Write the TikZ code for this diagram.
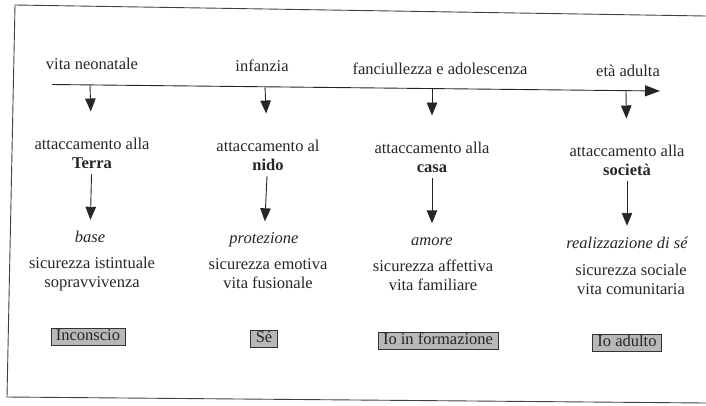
\documentclass[tikz,border=0pt]{standalone}
\usepackage{fontspec}
\setmainfont{Liberation Serif}
\usetikzlibrary{arrows.meta}

\begin{document}
\begin{tikzpicture}[x=1pt,y=-1pt,
		lbl/.style={font=\fontsize{16.5}{19.5}\selectfont, text=black!85, align=center, inner sep=0pt, text height=11pt, text depth=4pt},
		pair/.style={font=\fontsize{16.5}{19.5}\selectfont, text=black!85, align=center, inner sep=0pt, anchor=north},
		ital/.style={lbl, font=\fontsize{16.5}{19.5}\selectfont\itshape},
		tag/.style={lbl, draw=black!80, line width=0.6pt, fill=black!28, inner xsep=5pt, inner ysep=1pt},
		arr/.style={draw=black!85, line width=0.9pt, -{Triangle[width=10.5pt,length=13pt]}},
		down/.style={arr, shorten >=26pt},
		step2/.style={arr, shorten <=5pt, shorten >=11pt}]
		\useasboundingbox (0,0) rectangle (706,405);

		\draw [black!75, line width=0.9pt] (706,16) -- (15,5) -- (7,397) -- (706,403);

		\node [lbl] (vita) at (92,65.5) {vita neonatale};
		\node [lbl] (infanzia) at (262,67.5) {infanzia};
		\node [lbl] (fanciullezza) at (440,70.5) {fanciullezza e adolescenza};
		\node [lbl] (adulta) at (628,72.5) {età adulta};

		\coordinate (start) at (52,84.5);
		\coordinate (end) at (660,91);
		\coordinate (a1) at (90,85);
		\coordinate (a2) at (265,87);
		\coordinate (a3) at (432,89);
		\coordinate (a4) at (626,91);
		\draw [draw=black!85, line width=0.9pt, -{Triangle[width=11pt,length=15pt]}] (start) -- (end);

		\node [pair] (terra) at (92,137.5) {attaccamento alla\\\textbf{Terra}};
		\node [pair] (nido) at (268,139.5) {attaccamento al\\\textbf{nido}};
		\node [pair] (casa) at (432,141.5) {attaccamento alla\\\textbf{casa}};
		\node [pair] (societa) at (627,144.5) {attaccamento alla\\\textbf{società}};

		\node [ital] (base) at (90,238.5) {base};
		\node [ital] (protezione) at (264,240) {protezione};
		\node [ital] (amore) at (432,242) {amore};
		\node [ital] (realizzazione) at (627,244.5) {realizzazione di sé};

		\node [pair] (sic1) at (92,256.5) {sicurezza istintuale\\sopravvivenza};
		\node [pair] (sic2) at (268,258) {sicurezza emotiva\\vita fusionale};
		\node [pair] (sic3) at (433,259.5) {sicurezza affettiva\\vita familiare};
		\node [pair] (sic4) at (631,263.5) {sicurezza sociale\\vita comunitaria};

		\node [tag] (inconscio) at (88,337) {Inconscio};
		\node [tag] (se) at (264,339) {Sé};
		\node [tag] (formazione) at (438,341) {Io in formazione};
		\node [tag] (adulto) at (627,343) {Io adulto};

		\draw [down] (a1) -- (terra);
		\draw [down] (a2) -- (nido);
		\draw [down] (a3) -- (casa);
		\draw [down] (a4) -- (societa);

		\draw [step2] (terra) -- (base);
		\draw [step2] (nido) -- (protezione);
		\draw [step2] (casa) -- (amore);
		\draw [step2] (societa) -- (realizzazione);
\end{tikzpicture}
\end{document}
